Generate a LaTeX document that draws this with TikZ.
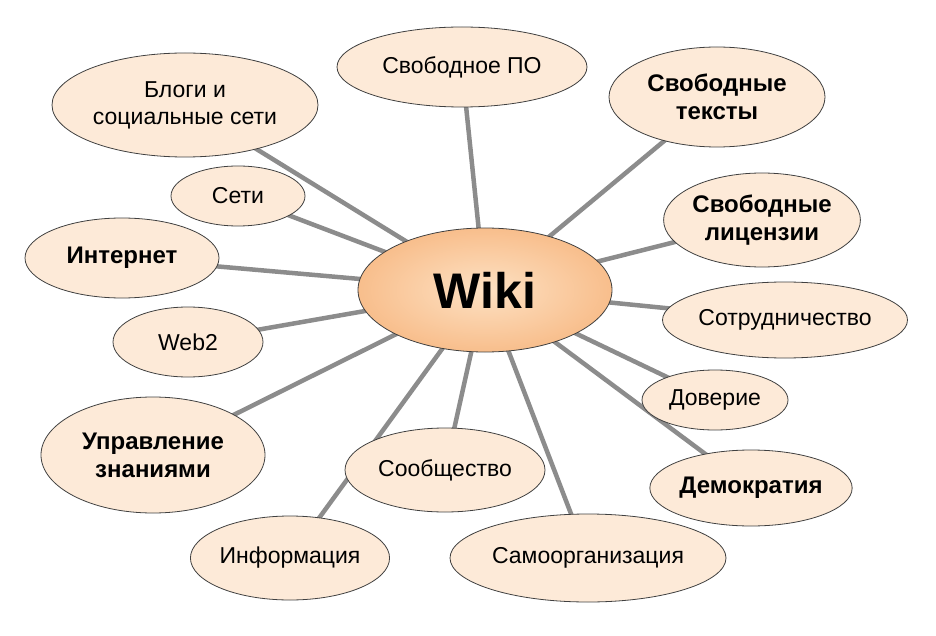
\documentclass[tikz,border=0pt]{standalone}
\usepackage{fontspec}
\setmainfont{Liberation Sans}
\usetikzlibrary{shapes.geometric}
\definecolor{peach}{RGB}{253,234,216}
\definecolor{wikior}{RGB}{248,190,140}
\definecolor{wikiin}{RGB}{253,225,195}
\definecolor{link}{RGB}{140,140,140}
\tikzset{
 bub/.style={ellipse,draw=black!75,line width=0.8pt,fill=peach,inner sep=0pt,align=center,font=\fontsize{23}{27}\selectfont},
 bb/.style={bub,font=\fontsize{24}{28}\selectfont\bfseries},
 lk/.style={draw=link,line width=4.5pt}
}
\newcommand{\bubat}[6]{\node[#1,minimum width=#4pt,minimum height=#5pt] (#6) at (#2pt,-#3pt)}
\begin{document}
\begin{tikzpicture}[x=1pt,y=1pt]
\useasboundingbox (0,0) rectangle (936,-636);
\coordinate (w) at (485,-290);
\coordinate (c1) at (462,-67);
\coordinate (c2) at (717,-97);
\coordinate (c3) at (762,-220);
\coordinate (c4) at (785,-320);
\coordinate (c5) at (715,-400);
\coordinate (c6) at (751,-488);
\coordinate (c7) at (588,-558);
\coordinate (c8) at (445,-470);
\coordinate (c9) at (290,-558);
\coordinate (c10) at (153,-455);
\coordinate (c11) at (188,-342);
\coordinate (c12) at (122,-258);
\coordinate (c13) at (238,-196);
\coordinate (c14) at (185,-105);
\foreach \c in {c1,c2,c3,c4,c5,c6,c7,c8,c9,c10,c11,c12,c13,c14} \draw[lk] (w) -- (\c);
\node[ellipse,draw=black!75,line width=0.8pt,inner color=wikiin,outer color=wikior,minimum width=254pt,minimum height=124pt,font=\fontsize{50}{56}\selectfont\bfseries] (wiki) at (w) {Wiki};
\node[bub,minimum width=250pt,minimum height=80pt] (n1) at (c1) {Свободное ПО};
\node[bb,minimum width=216pt,minimum height=100pt] (n2) at (c2) {Свободные\\тексты};
\node[bb,minimum width=194pt,minimum height=94pt] (n3) at (c3) {Свободные\\лицензии};
\node[bub,minimum width=236pt,minimum height=76pt] (n4) at (c4) {Сотрудничество};
\node[bub,minimum width=146pt,minimum height=60pt] (n5) at (c5) {Доверие};
\node[bb,minimum width=200pt,minimum height=76pt] (n6) at (c6) {Демократия};
\node[bub,minimum width=276pt,minimum height=88pt] (n7) at (c7) {Самоорганизация};
\node[bub,minimum width=200pt,minimum height=84pt] (n8) at (c8) {Сообщество};
\node[bub,minimum width=184pt,minimum height=84pt] (n9) at (c9) {Информация};
\node[bb,minimum width=224pt,minimum height=116pt] (n10) at (c10) {Управление\\знаниями};
\node[bub,minimum width=150pt,minimum height=70pt] (n11) at (c11) {Web2};
\node[bb,minimum width=194pt,minimum height=80pt] (n12) at (c12) {Интернет};
\node[bub,minimum width=134pt,minimum height=60pt] (n13) at (c13) {Сети};
\node[bub,minimum width=266pt,minimum height=104pt] (n14) at (c14) {Блоги и\\социальные сети};
\end{tikzpicture}
\end{document}
